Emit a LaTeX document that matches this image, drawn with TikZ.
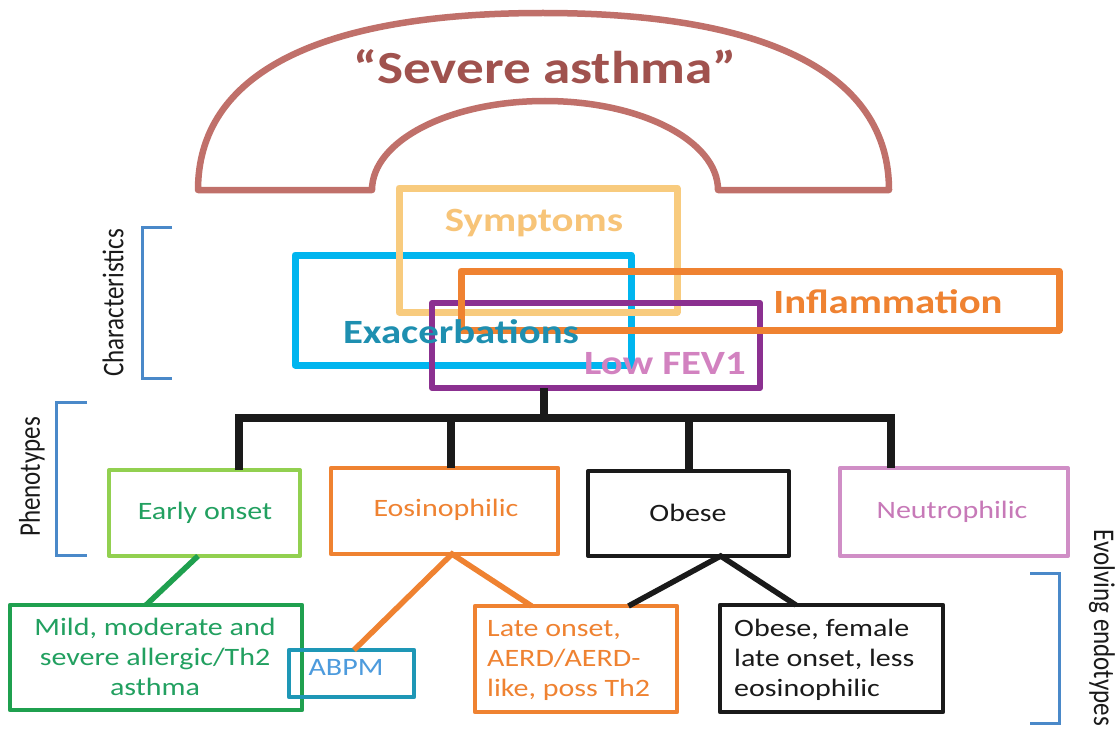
\documentclass[tikz,border=0pt]{standalone}
\usepackage{fontspec}
\setmainfont{Carlito}[FakeStretch=1.2]
\newfontfamily\rotfont{Carlito}[FakeStretch=0.833]
\usetikzlibrary{calc}
\definecolor{archc}{HTML}{C0706A}
\definecolor{titlec}{HTML}{A0524E}
\definecolor{sympc}{HTML}{F8CB7E}
\definecolor{sympt}{HTML}{F7C478}
\definecolor{exac}{HTML}{00B5EF}
\definecolor{exact}{HTML}{1E8FB0}
\definecolor{orng}{HTML}{EF8231}
\definecolor{purp}{HTML}{8B3090}
\definecolor{pinkt}{HTML}{D282C0}
\definecolor{lgreen}{HTML}{92D050}
\definecolor{dgreen}{HTML}{1FA04F}
\definecolor{greent}{HTML}{22A060}
\definecolor{neut}{HTML}{D08EC6}
\definecolor{neutt}{HTML}{C779B8}
\definecolor{abpmc}{HTML}{1E97B6}
\definecolor{abpmt}{HTML}{4D9BDD}
\definecolor{blk}{HTML}{1A1A1A}
\definecolor{brk}{HTML}{4A89C9}
\begin{document}
\begin{tikzpicture}[x=1pt,y=-1pt,
  frame/.style={draw=#1, inner sep=0pt, outer sep=0pt, line join=round},
  big/.style={font=\bfseries\fontsize{34}{40}\selectfont, inner sep=0pt},
  lbl/.style={font=\fontsize{25}{30}\selectfont, inner sep=0pt},
  side/.style={font=\rotfont\fontsize{30}{36}\selectfont, inner sep=0pt, text=blk},
  brace/.style={draw=brk, line width=3pt},
  tree/.style={draw=blk, line width=8pt},
  link/.style={line width=5.5pt},
]
\fill[white] (0,0) rectangle (1118,733);
\useasboundingbox (0,0) rectangle (1118,733);

% arch
\draw[archc, line width=6.5pt, line join=round] (198,190)
  .. controls (198,74) and (318,13) .. (543,13)
  .. controls (768,13) and (889,74) .. (889,190)
  -- (718,190)
  arc[start angle=0, end angle=180, x radius=173pt, y radius=89pt]
  -- cycle;
\node[font=\bfseries\fontsize{46}{52}\selectfont, text=titlec, inner sep=0pt] (title) at (545,67) {“Severe asthma”};

% characteristics boxes
\node[frame=exac, line width=7pt, minimum width=336pt, minimum height=110pt] (exbox) at (463,310) {};
\node[frame=sympc, line width=7pt, minimum width=278pt, minimum height=124pt] (sybox) at (538,250) {};
\node[frame=purp, line width=6pt, minimum width=328pt, minimum height=85pt] (low) at (596,345.5) {};
\node[frame=orng, line width=7pt, minimum width=598pt, minimum height=59pt] (infbox) at (760,300.5) {};
\node[big, text=sympt] (sytext) at (534,223) {Symptoms};
\node[big, text=exact] (extext) at (461,332) {Exacerbations};
\node[big, text=orng] (inftext) at (888,302) {Inflammation};
\node[big, text=pinkt] (lowtext) at (665,364) {Low FEV1};

% tree
\coordinate (tc) at (544,418);
\coordinate (t1) at (239,418);
\coordinate (t2) at (451,418);
\coordinate (t3) at (689,418);
\coordinate (t4) at (891,418);

% phenotypes
\node[frame=lgreen, line width=4pt, minimum width=191pt, minimum height=86pt] (early) at (204.5,513) {};
\node[frame=orng, line width=4.5pt, minimum width=227pt, minimum height=86pt] (eos) at (444.5,511) {};
\node[frame=blk, line width=4pt, minimum width=201pt, minimum height=85pt] (obese) at (688.5,513.5) {};
\node[frame=neut, line width=4pt, minimum width=228pt, minimum height=88pt] (neutro) at (954,512) {};
\node[lbl, text=greent] (earlyt) at (205,513) {Early onset};
\node[lbl, text=orng] (eost) at (446,510) {Eosinophilic};
\node[lbl, text=blk] (obeset) at (688,513) {Obese};
\node[lbl, text=neutt] (neutrot) at (952,512) {Neutrophilic};

\draw[tree] (low.south -| tc) -- (tc);
\draw[tree, line join=miter] (t1 |- early.north) -- (t1) -- (t4) -- (t4 |- neutro.north);
\draw[tree] (t2) -- (t2 |- eos.north);
\draw[tree] (t3) -- (t3 |- obese.north);

% endotypes
\node[frame=dgreen, line width=4.5pt, minimum width=292pt, minimum height=105pt] (mild) at (156,657.5) {};
\node[frame=abpmc, line width=4.5pt, minimum width=125pt, minimum height=47pt] (abpm) at (351.5,673.5) {};
\node[frame=orng, line width=4.5pt, minimum width=202pt, minimum height=106pt] (late) at (576,659) {};
\node[frame=blk, line width=4.5pt, minimum width=223pt, minimum height=107pt] (obf) at (831.5,658.5) {};
\node[lbl, text=greent, align=center] (mildt) at (155,657) {Mild, moderate and\\severe allergic/Th2\\asthma};
\node[lbl, text=abpmt] (abpmt) at (346,667) {ABPM};
\node[lbl, text=orng, align=left, anchor=west] (latet) at (487,660) {Late onset,\\AERD/AERD-\\like, poss Th2};
\node[lbl, text=blk, align=left, anchor=west] (obft) at (734,660) {Obese, female\\late onset, less\\eosinophilic};

% connectors
\draw[link, dgreen] ($(early.south west)!0.466!(early.south east)$) -- ($(mild.north west)!0.466!(mild.north east)$);
\coordinate (eosapex) at ($(eos.south west)!0.533!(eos.south east)$);
\draw[link, orng, line join=miter] ($(abpm.north west)!0.52!(abpm.north east)$) -- (eosapex) -- ($(late.north west)!0.28!(late.north east)$);
\coordinate (obapex) at ($(obese.south west)!0.66!(obese.south east)$);
\draw[link, blk, line join=miter] ($(late.north west)!0.76!(late.north east)$) -- (obapex) -- ($(obf.north west)!0.34!(obf.north east)$);

% side brackets and labels
\draw[brace] (172,227) -- (142,227) -- (142,378) -- (172,378);
\node[side, rotate=90] (charl) at (113,303) {Characteristics};
\draw[brace] (87,402) -- (56,402) -- (56,555) -- (87,555);
\node[side, rotate=90] (phenl) at (32,477) {Phenotypes};
\draw[brace] (1030,573) -- (1059,573) -- (1059,723) -- (1030,723);
\node[side, rotate=-90] (endol) at (1102,628) {Evolving endotypes};
\end{tikzpicture}
\end{document}
